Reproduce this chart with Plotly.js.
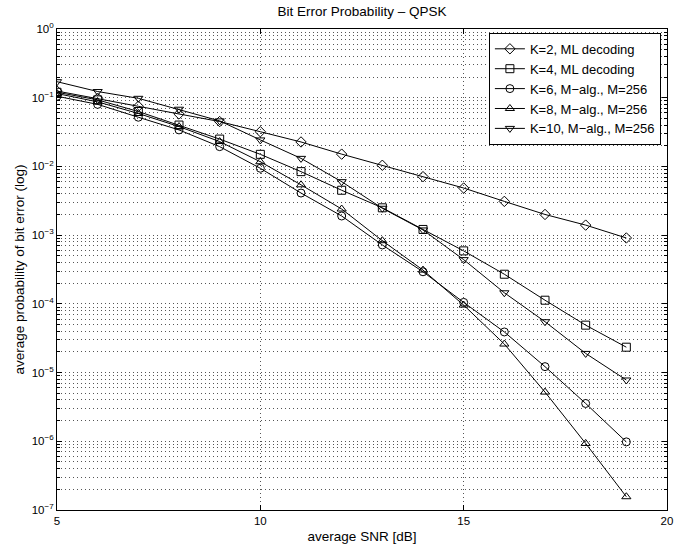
<!DOCTYPE html>
<html><head><meta charset="utf-8">
<script src="https://cdn.plot.ly/plotly-3.0.1.min.js"></script>
<style>html,body{margin:0;padding:0;background:#fff}#chart{width:675px;height:552px}</style>
</head><body><div id="chart"></div>
<script>
const snr = [5,6,7,8,9,10,11,12,13,14,15,16,17,18,19];
const k2  = [0.125,0.098,0.075,0.058,0.045,0.032,0.0227,0.0151,0.0104,0.0071,0.00485,0.0031,0.0020,0.0014,0.00091];
const k4  = [0.12,0.093,0.063,0.040,0.025,0.015,0.0084,0.0045,0.0025,0.00121,0.00059,0.00027,0.000113,0.000049,0.0000234];
const k6  = [0.105,0.080,0.052,0.034,0.0194,0.0094,0.0041,0.0019,0.00072,0.000293,0.000105,0.000039,0.0000122,0.00000355,0.00000098];
const k8  = [0.115,0.087,0.059,0.038,0.023,0.0117,0.0054,0.0024,0.00083,0.00031,0.000096,0.000026,0.0000052,0.00000093,0.000000156];
const k10 = [0.171,0.123,0.098,0.068,0.046,0.0243,0.0131,0.0060,0.00246,0.00119,0.00044,0.000145,0.000055,0.000019,0.0000078];
const names = ['K=2, ML decoding','K=4, ML decoding','K=6, M\u2212alg., M=256','K=8, M\u2212alg., M=256','K=10, M\u2212alg., M=256'];
const symbols = ['diamond-open','square-open','circle-open','triangle-up-open','triangle-down-open'];
const series = [k2,k4,k6,k8,k10];
const xTicks = [5,10,15,20];
const yTickVals = [1,1e-1,1e-2,1e-3,1e-4,1e-5,1e-6,1e-7];
const yTickText = ['10<sup>0</sup>','10<sup>\u22121</sup>','10<sup>\u22122</sup>','10<sup>\u22123</sup>','10<sup>\u22124</sup>','10<sup>\u22125</sup>','10<sup>\u22126</sup>','10<sup>\u22127</sup>'];

const traces = series.map((s,i)=>({
  x: snr, y: s, name: names[i], type:'scatter', mode:'lines+markers',
  line:{color:'#000', width:1},
  marker:{symbol:symbols[i], size:8, color:'#000', line:{color:'#000', width:1}}
}));

const fam = 'Liberation Sans, Arial, sans-serif';
const layout = {
  width:675, height:552,
  margin:{l:57, r:8, t:29, b:42},
  paper_bgcolor:'#fff', plot_bgcolor:'#fff',
  font: {family:fam, size:12, color:'#000'},
  title:{text:'Bit Error Probability \u2013 QPSK', font:{size:13.5, family:fam, color:'#000'}, xref:'paper', x:0.5, xanchor:'center', yref:'container', y:0.988, yanchor:'top'},
  showlegend:true,
  legend:{x:0.99, xanchor:'right', y:0.992, yanchor:'top', bgcolor:'#fff', bordercolor:'#000', borderwidth:1, font:{size:13, family:fam, color:'#000'}, itemwidth:30},
  xaxis:{
    range:[5,20], tickvals:xTicks, ticktext:xTicks.map(String),
    showline:true, linecolor:'#000', linewidth:1, mirror:'allticks',
    ticks:'inside', ticklen:5, tickcolor:'#000',
    showgrid:true, gridcolor:'#555', gridwidth:1, griddash:'1px,3px',
    zeroline:false,
    tickfont:{size:11.5, family:fam, color:'#000'},
    title:{text:'average SNR [dB]', font:{size:13.5, family:fam, color:'#000'}, standoff:5}
  },
  yaxis:{
    type:'log', range:[-7,0], tickvals:yTickVals, ticktext:yTickText,
    showline:true, linecolor:'#000', linewidth:1, mirror:'allticks',
    ticks:'inside', ticklen:5, tickcolor:'#000',
    showgrid:true, gridcolor:'#555', gridwidth:1, griddash:'1px,3px',
    zeroline:false,
    tickfont:{size:11.5, family:fam, color:'#000'},
    minor:{dtick:'D1', ticks:'inside', ticklen:3, tickcolor:'#000', showgrid:true, gridcolor:'#555', gridwidth:1, griddash:'1px,3px'},
    title:{text:'average probability of bit error (log)', font:{size:13.5, family:fam, color:'#000'}, standoff:3}
  }
};
Plotly.newPlot('chart', traces, layout, {staticPlot:true, displayModeBar:false});
</script>
</body></html>
